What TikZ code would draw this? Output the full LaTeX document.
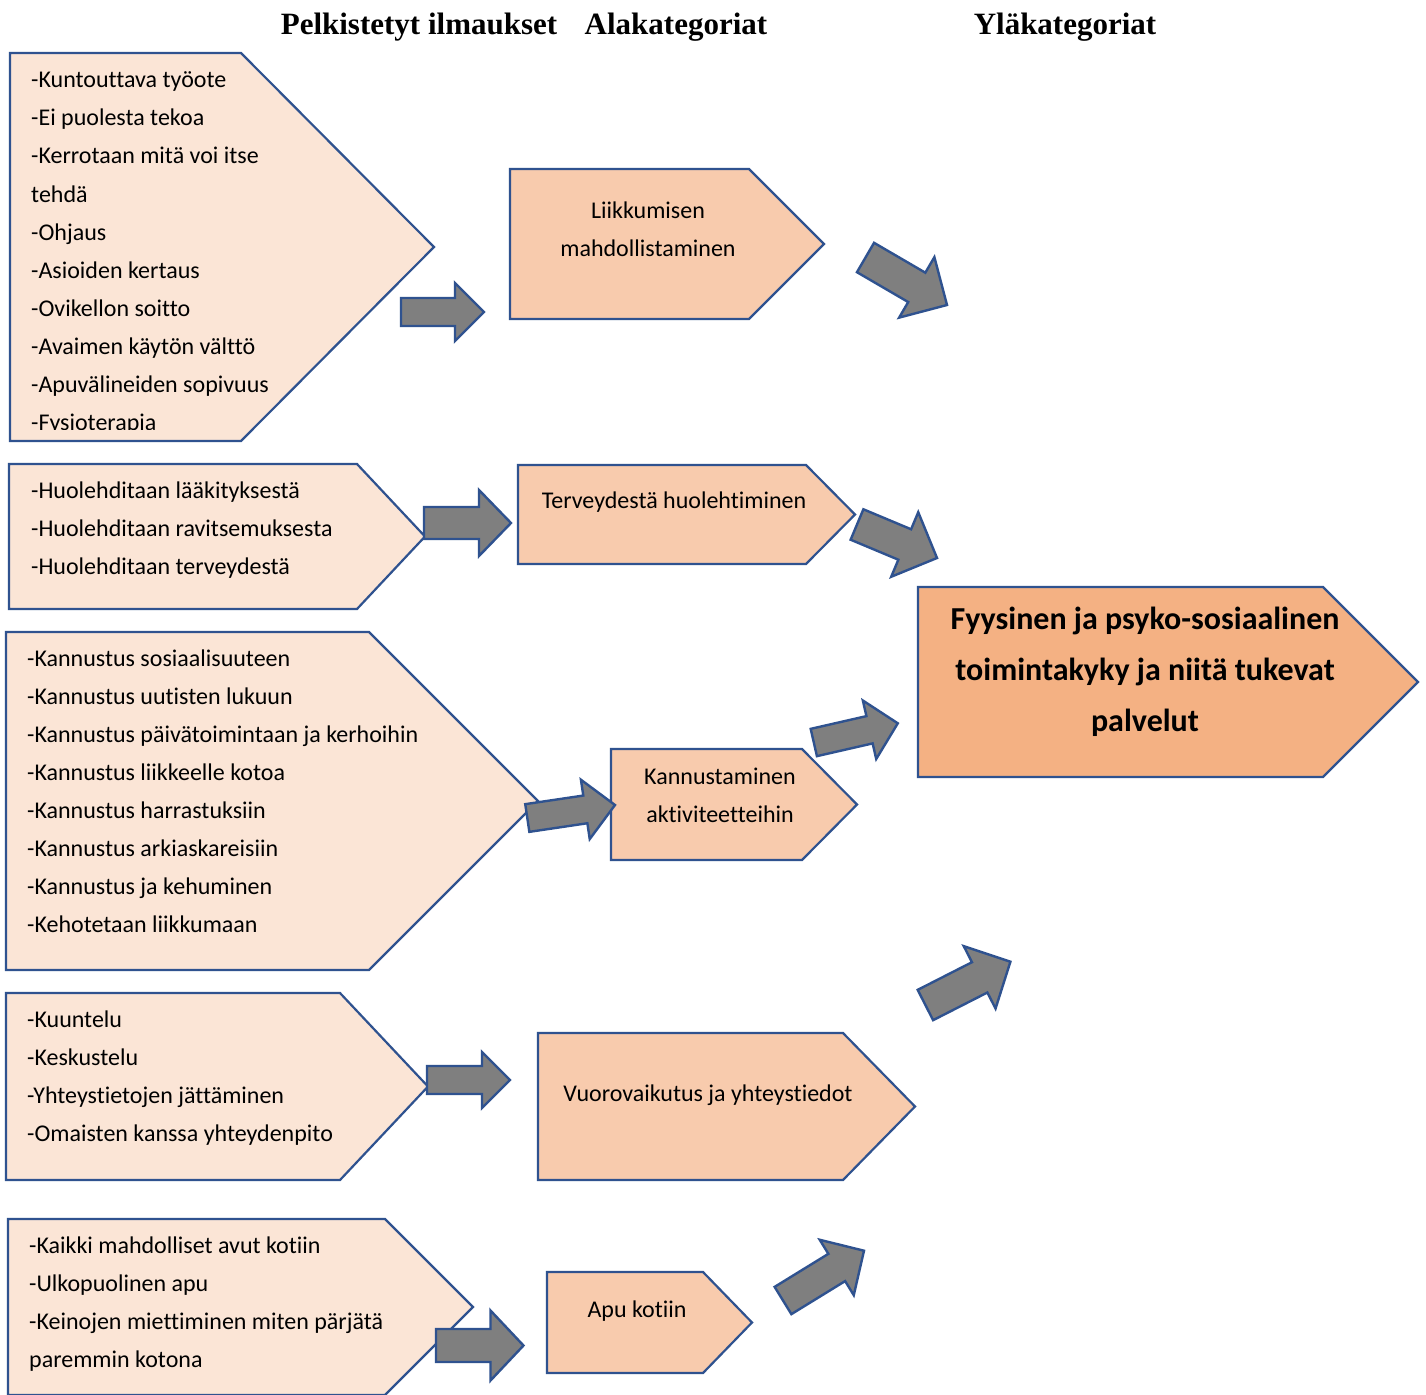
\documentclass[tikz,border=0pt]{standalone}
\usepackage{fontspec}
\setmainfont[Ligatures=NoCommon]{Carlito}
\newfontfamily\hdrfont{Liberation Serif}
\usetikzlibrary{calc}
\definecolor{lightfill}{HTML}{FBE5D6}
\definecolor{midfill}{HTML}{F8CBAD}
\definecolor{darkfill}{HTML}{F4B183}
\definecolor{edgeblue}{HTML}{2F528F}
\definecolor{arrgray}{HTML}{7F7F7F}
\tikzset{
 listshape/.style={fill=lightfill,draw=edgeblue,line width=2.2pt},
 subshape/.style={fill=midfill,draw=edgeblue,line width=2.2pt},
 topshape/.style={fill=darkfill,draw=edgeblue,line width=2.2pt},
 garrow/.style={fill=arrgray,draw=edgeblue,line width=2.4pt,line join=miter},
 itemtxt/.style={anchor=base west,inner sep=0pt,font=\fontsize{24}{28}\selectfont},
 subtxt/.style={anchor=base,inner sep=0pt,font=\fontsize{24}{28}\selectfont},
 toptxt/.style={anchor=base,inner sep=0pt,font=\fontsize{32}{38}\selectfont\bfseries},
 hdrtxt/.style={anchor=base,inner sep=0pt,font=\hdrfont\fontsize{31}{36}\selectfont\bfseries},
}
% style, left, top, corner x, tip x, bottom
\newcommand\homeplate[6]{\draw[#1] (#2,#3) -- (#4,#3) -- (#5,{(#3+#6)/2}) -- (#4,#6) -- (#2,#6) -- cycle;}
% tail, tip, shaft half width, head half width, head length
\newcommand\blockarr[5]{%
 \path (#1) coordinate (bT) (#2) coordinate (bP);
 \path ($(bP)!#5!(bT)$) coordinate (bH);
 \draw[garrow] ($(bT)!#3!90:(bP)$) -- ($(bH)!#3!90:(bP)$) -- ($(bH)!#4!90:(bP)$) -- (bP)
   -- ($(bH)!#4!-90:(bP)$) -- ($(bH)!#3!-90:(bP)$) -- ($(bT)!#3!-90:(bP)$) -- cycle;}
\begin{document}
\begin{tikzpicture}[x=1pt,y=-1pt]
\useasboundingbox (0,0) rectangle (1426,1394);
\clip (0,0) rectangle (1426,1394);
\fill[white] (0,0) rectangle (1426,1394);

% headers
\node[hdrtxt] (h1) at (419,35) {Pelkistetyt ilmaukset};
\node[hdrtxt] (h2) at (676,35) {Alakategoriat};
\node[hdrtxt] (h3) at (1065,35) {Yläkategoriat};

% shapes
\homeplate{listshape}{10}{53}{241}{434}{441}
\homeplate{subshape}{510}{169}{749}{824}{319}
\homeplate{listshape}{9}{464}{357}{425}{609}
\homeplate{subshape}{518}{465}{806}{855}{564}
\homeplate{listshape}{6}{632}{369}{538}{970}
\homeplate{subshape}{611}{749}{802}{857}{860}
\homeplate{topshape}{918}{587}{1323}{1418}{777}
\homeplate{listshape}{6}{993}{340}{428}{1180}
\homeplate{subshape}{538}{1033}{843}{915}{1180}
\homeplate{listshape}{8}{1219}{385}{473}{1395}
\homeplate{subshape}{547}{1272}{703}{752}{1373}

% list 1
\foreach [count=\i] \t in {-Kuntouttava työote,-Ei puolesta tekoa,-Kerrotaan mitä voi itse,tehdä,-Ohjaus,-Asioiden kertaus,-Ovikellon soitto,-Avaimen käytön välttö,-Apuvälineiden sopivuus}
  \node[itemtxt] (la\i) at (31,{88+38*(\i-1)}) {\t};
\begin{scope}
\clip (0,0) rectangle (1426,429.5);
\node[itemtxt] (la10) at (31,430) {-Fysioterapia};
\end{scope}
% list 2
\foreach [count=\i] \t in {-Huolehditaan lääkityksestä,-Huolehditaan ravitsemuksesta,-Huolehditaan terveydestä}
  \node[itemtxt] (lb\i) at (31,{498+38*(\i-1)}) {\t};
% list 3
\foreach [count=\i] \t in {-Kannustus sosiaalisuuteen,-Kannustus uutisten lukuun,-Kannustus päivätoimintaan ja kerhoihin,-Kannustus liikkeelle kotoa,-Kannustus harrastuksiin,-Kannustus arkiaskareisiin,-Kannustus ja kehuminen,-Kehotetaan liikkumaan}
  \node[itemtxt] (lc\i) at (27,{666+38*(\i-1)}) {\t};
% list 4
\foreach [count=\i] \t in {-Kuuntelu,-Keskustelu,-Yhteystietojen jättäminen,-Omaisten kanssa yhteydenpito}
  \node[itemtxt] (ld\i) at (27,{1027+38*(\i-1)}) {\t};
% list 5
\foreach [count=\i] \t in {-Kaikki mahdolliset avut kotiin,-Ulkopuolinen apu,-Keinojen miettiminen miten pärjätä,paremmin kotona}
  \node[itemtxt] (le\i) at (29,{1253+38*(\i-1)}) {\t};

% subcategories
\node[subtxt] (s1a) at (648,218) {Liikkumisen};
\node[subtxt] (s1b) at (648,256) {mahdollistaminen};
\node[subtxt] (s2) at (674,508) {Terveydestä huolehtiminen};
\node[subtxt] (s3a) at (720,784) {Kannustaminen};
\node[subtxt] (s3b) at (720,822) {aktiviteetteihin};
\node[subtxt] (s4) at (708,1101) {Vuorovaikutus ja yhteystiedot};
\node[subtxt] (s5) at (637,1317) {Apu kotiin};

% top category
\node[toptxt] (t1) at (1145,629) {Fyysinen ja psyko-sosiaalinen};
\node[toptxt] (t2) at (1145,680) {toimintakyky ja niitä tukevat};
\node[toptxt] (t3) at (1145,731) {palvelut};

% arrows
\coordinate (a1t) at (401,312);   \coordinate (a1h) at (484,312);
\coordinate (a2t) at (865.5,257.5); \coordinate (a2h) at (947,305);
\coordinate (a3t) at (424,523);   \coordinate (a3h) at (511,523);
\coordinate (a4t) at (857,524.5); \coordinate (a4h) at (937,558);
\coordinate (a5t) at (527.3,818); \coordinate (a5h) at (615,805);
\coordinate (a6t) at (813.8,742.5); \coordinate (a6h) at (897.8,723.3);
\coordinate (a7t) at (925.4,1005); \coordinate (a7h) at (1010.4,961.7);
\coordinate (a8t) at (427,1080);  \coordinate (a8h) at (510,1080);
\coordinate (a9t) at (436,1345.5); \coordinate (a9h) at (523.5,1345.5);
\coordinate (a10t) at (783,1300.5); \coordinate (a10h) at (864,1250.7);
\blockarr{a1t}{a1h}{14pt}{29pt}{29pt}
\blockarr{a2t}{a2h}{17pt}{35pt}{35pt}
\blockarr{a3t}{a3h}{16pt}{33pt}{32pt}
\blockarr{a4t}{a4h}{16.5pt}{35pt}{35pt}
\blockarr{a5t}{a5h}{14pt}{30pt}{30pt}
\blockarr{a6t}{a6h}{14pt}{30pt}{29pt}
\blockarr{a7t}{a7h}{17pt}{35pt}{34.5pt}
\blockarr{a8t}{a8h}{14pt}{28pt}{28pt}
\blockarr{a9t}{a9h}{16.5pt}{35pt}{33pt}
\blockarr{a10t}{a10h}{16pt}{32.5pt}{32pt}
\end{tikzpicture}
\end{document}
